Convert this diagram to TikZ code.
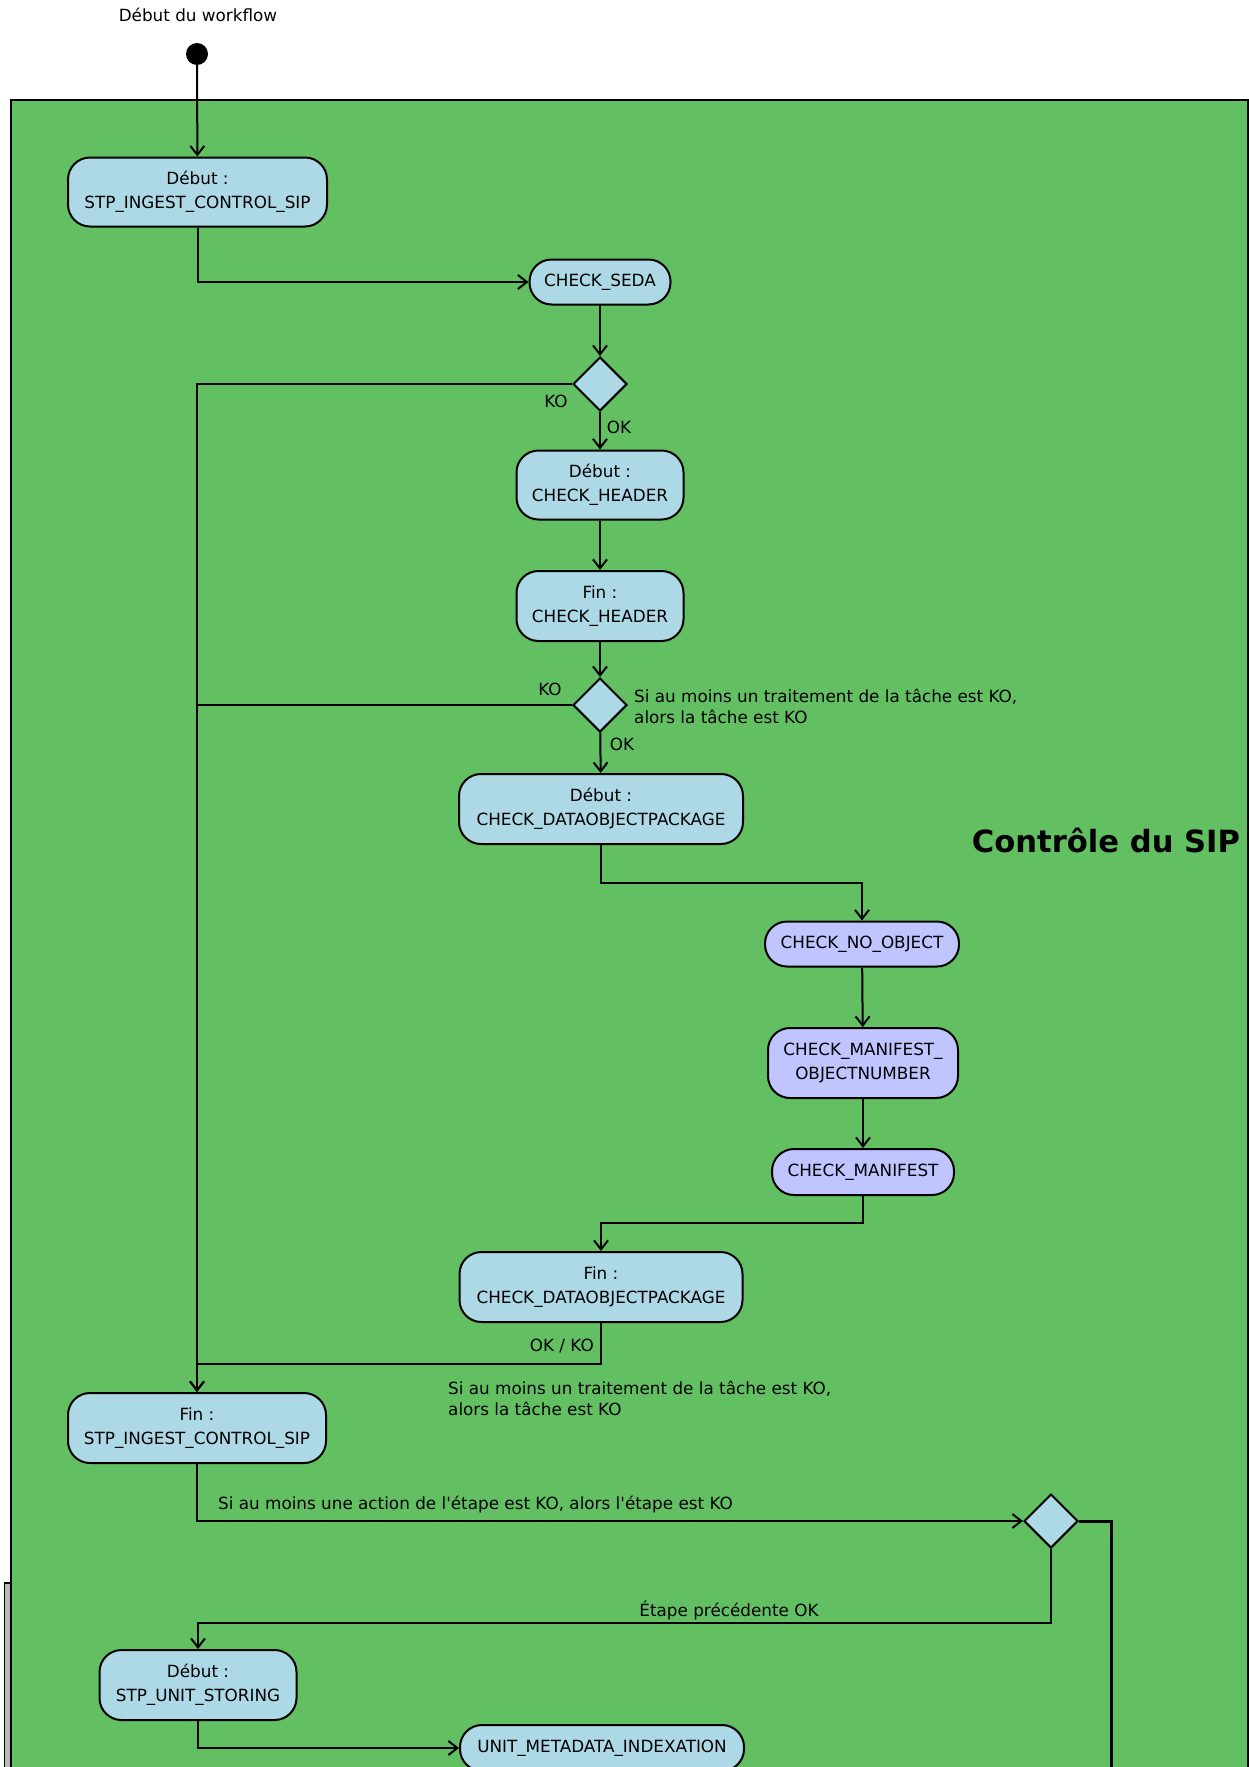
\documentclass[tikz,border=0pt]{standalone}
\usepackage{fontspec}
\setmainfont{DejaVu Sans}[Ligatures=TeXOff]
\usetikzlibrary{arrows.meta,shapes.geometric,calc}
\definecolor{frameg}{RGB}{98,192,98}
\definecolor{boxb}{RGB}{173,216,230}
\definecolor{boxl}{RGB}{192,196,255}
\begin{document}
\begin{tikzpicture}[x=1pt,y=-1pt,
  every node/.style={font=\fontsize{16.8}{24}\selectfont},
  act/.style={draw,line width=2pt,fill=boxb,rounded corners=22pt,align=center,inner sep=0pt},
  sub/.style={act,fill=boxl},
  dec/.style={draw,line width=2pt,fill=boxb,diamond,minimum width=54pt,minimum height=54pt,inner sep=0pt},
  conn/.style={line width=2pt,-{Straight Barb[length=9pt,width=14pt,line width=2pt]}},
  plain/.style={line width=2pt},
  lbl/.style={inner sep=0pt},
  note/.style={inner sep=0pt,align=left,font=\fontsize{16.8}{21}\selectfont}]
\clip (0,0) rectangle (1249,1767);
\fill[white] (0,0) rectangle (1249,1767);
% background frames
\fill[gray!55] (4,1583) rectangle (10,1800);
\draw[line width=1.5pt] (4.5,1800) -- (4.5,1583) -- (10,1583);
\draw[line width=2pt,fill=frameg] (11,100) rectangle (1248,1800);

\node (wf) at (198,15) {Début du workflow};
\node[circle,fill=black,minimum size=22pt,inner sep=0pt] (start) at (197,54) {};

\node[act,minimum width=259pt,minimum height=69pt] (debSTP) at (197.5,192) {Début :\\STP\_INGEST\_CONTROL\_SIP};
\node[act,minimum width=141pt,minimum height=45pt] (seda) at (600,282) {CHECK\_SEDA};
\node[dec] (d1) at (600,384) {};
\node[act,minimum width=167pt,minimum height=69pt] (debHDR) at (600,485) {Début :\\CHECK\_HEADER};
\node[act,minimum width=167pt,minimum height=70pt] (finHDR) at (600,606) {Fin :\\CHECK\_HEADER};
\node[dec] (d2) at (600,705) {};
\node[act,minimum width=284pt,minimum height=70pt] (debCDOP) at (601,809) {Début :\\CHECK\_DATAOBJECTPACKAGE};
\node[sub,minimum width=194pt,minimum height=45pt] (noobj) at (862,944) {CHECK\_NO\_OBJECT};
\node[sub,minimum width=190pt,minimum height=70pt] (cmo) at (863,1063) {CHECK\_MANIFEST\_\\OBJECTNUMBER};
\node[sub,minimum width=182pt,minimum height=46pt] (cman) at (863,1172) {CHECK\_MANIFEST};
\node[act,minimum width=283pt,minimum height=70pt] (finCDOP) at (601,1287) {Fin :\\CHECK\_DATAOBJECTPACKAGE};
\node[act,minimum width=258pt,minimum height=70pt] (finSTP) at (197,1428) {Fin :\\STP\_INGEST\_CONTROL\_SIP};
\node[dec] (d3) at (1051,1521) {};
\node[act,minimum width=197pt,minimum height=70pt] (debUS) at (198,1685) {Début :\\STP\_UNIT\_STORING};
\node[act,minimum width=284pt,minimum height=46pt] (umi) at (602,1748) {UNIT\_METADATA\_INDEXATION};

\node[font=\fontsize{30.6}{36}\selectfont\bfseries] (title) at (1106,840) {Contrôle du SIP};

% connectors
\draw[conn] (start) -- (debSTP);
\draw[conn] (debSTP.south) |- (seda.west);
\draw[conn] (seda) -- (d1);
\draw[conn] (d1.west) -| (finSTP.north);
\draw[conn] (d1) -- (debHDR);
\draw[conn] (debHDR) -- (finHDR);
\draw[conn] (finHDR) -- (d2);
\draw[plain] (d2.west) -- (d2.west -| finSTP.north);
\draw[conn] (d2) -- (debCDOP);
\draw[conn] (debCDOP.south) -- ++(0,38) -| (noobj.north);
\draw[conn] (noobj) -- (cmo);
\draw[conn] (cmo) -- (cman);
\draw[conn] (cman.south) -- ++(0,27) -| (finCDOP.north);
\draw[conn] (finCDOP.south) -- ++(0,41) -| (finSTP.north);
\draw[conn] (finSTP.south) |- (d3.west);
\draw[line width=3pt] (d3.east) -- ++(32,0) -- ++(0,400);
\draw[conn] (d3.south) -- ++(0,74) -| (debUS.north);
\draw[conn] (debUS.south) |- (umi.west);

% labels
\node[lbl] (ko1) at (556,401) {KO};
\node[lbl] (ok1) at (619,427) {OK};
\node[lbl] (ko2) at (550,689) {KO};
\node[lbl] (ok2) at (622,744) {OK};
\node[note,anchor=west] (n1) at (634,706) {Si au moins un traitement de la tâche est KO,\\alors la tâche est KO};
\node[lbl,anchor=east] (okko) at (594,1346) {OK / KO};
\node[note,anchor=west] (n2) at (448,1398) {Si au moins un traitement de la tâche est KO,\\alors la tâche est KO};
\node[lbl,anchor=west] (n3) at (218,1505) {Si au moins une action de l'étape est KO, alors l'étape est KO};
\node[lbl] (n4) at (729,1610) {Étape précédente OK};
\end{tikzpicture}
\end{document}
